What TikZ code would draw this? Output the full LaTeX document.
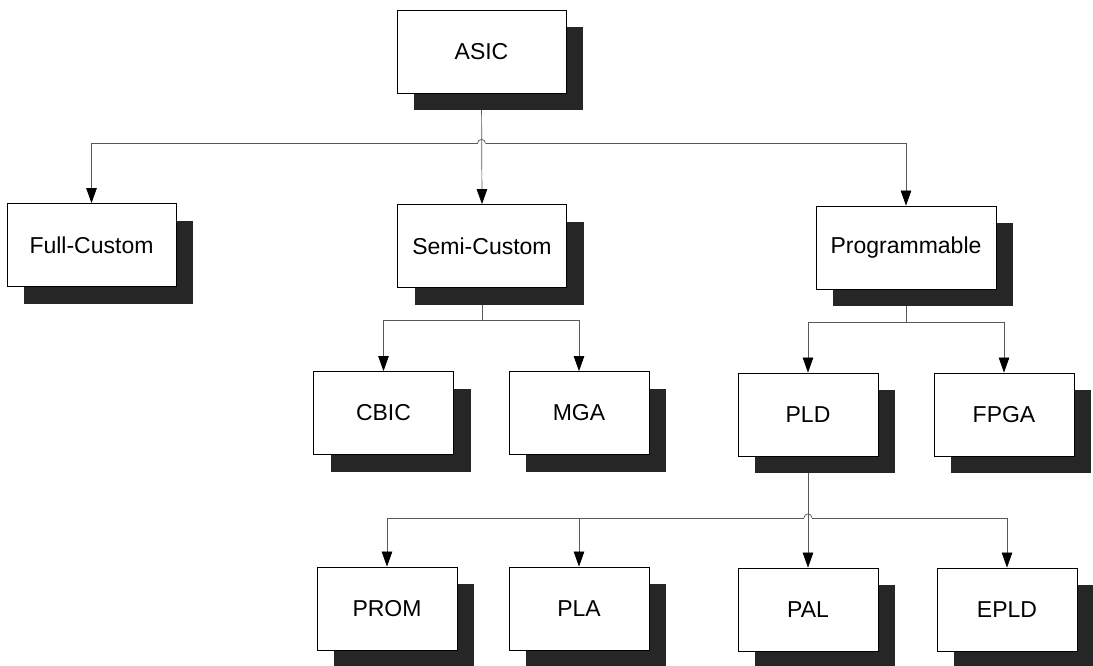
\documentclass[tikz,border=0pt]{standalone}
\usepackage{fontspec}
\setmainfont{Liberation Sans}
\usetikzlibrary{arrows.meta,shadows,calc}
\pgfdeclarelayer{background}
\pgfsetlayers{background,main}
\begin{document}
\begin{tikzpicture}[x=1pt,y=-1pt,
  box/.style={draw=black,line width=0.8pt,fill=white,minimum height=83pt,minimum width=140pt,inner sep=0pt,
    font=\fontsize{23}{27}\selectfont,
    drop shadow={shadow xshift=17pt,shadow yshift=-17pt,fill=black!85,opacity=1}},
  wide/.style={box,minimum width=169pt},
  conn/.style={draw=black!65,line width=0.7pt},
  arr/.style={conn,-{Triangle[width=10.5pt,length=15pt,black]}}
]
\useasboundingbox (0,0) rectangle (1093,666);
\clip (0,0) rectangle (1093,666);

\node[wide] (asic) at (481.5,51.5) {ASIC};
\node[wide] (full) at (91.5,245) {Full-Custom};
\node[wide] (semi) at (482,246) {Semi-Custom};
\node[box,minimum width=180pt] (prog) at (906,247.5) {Programmable};

\node[box] (cbic) at (383.5,413) {CBIC};
\node[box] (mga) at (579,413) {MGA};
\node[box] (pld) at (808,414.5) {PLD};
\node[box] (fpga) at (1004,414.5) {FPGA};

\node[box] (prom) at (387,608.5) {PROM};
\node[box] (pla) at (579,608.5) {PLA};
\node[box] (pal) at (808,609.5) {PAL};
\node[box] (epld) at (1007,609.5) {EPLD};

\begin{pgfonlayer}{background}
\fill[white] (0,0) rectangle (1093,666);
\path (asic.south) ++(0,50) coordinate (j1);
\path (semi.south) ++(0,32.5) coordinate (j2);
\path (prog.south) ++(0,33) coordinate (j3);
\path (pld.south) ++(0,61.5) coordinate (j4);

\draw[arr] (asic.south) -- (semi.north);
\draw[arr] ($(j1)+(-4,0)$) -| (full.north);
\draw[arr] ($(j1)+(4,0)$) -| (prog.north);
\draw[conn] ($(j1)+(-4,0)$) arc[start angle=180,end angle=0,radius=4pt];

\draw[conn] (semi.south) -- (j2);
\draw[arr] (j2) -| (cbic.north);
\draw[arr] (j2) -| (mga.north);

\draw[conn] (prog.south) -- (j3);
\draw[arr] (j3) -| (pld.north);
\draw[arr] (j3) -| (fpga.north);

\draw[arr] (pld.south) -- (pal.north);
\draw[arr] ($(j4)+(-4,0)$) -| (prom.north);
\draw[arr] ($(j4)+(-4,0)$) -| (pla.north);
\draw[arr] ($(j4)+(4,0)$) -| (epld.north);
\draw[conn] ($(j4)+(-4,0)$) arc[start angle=180,end angle=0,radius=4pt];
\end{pgfonlayer}
\end{tikzpicture}
\end{document}
